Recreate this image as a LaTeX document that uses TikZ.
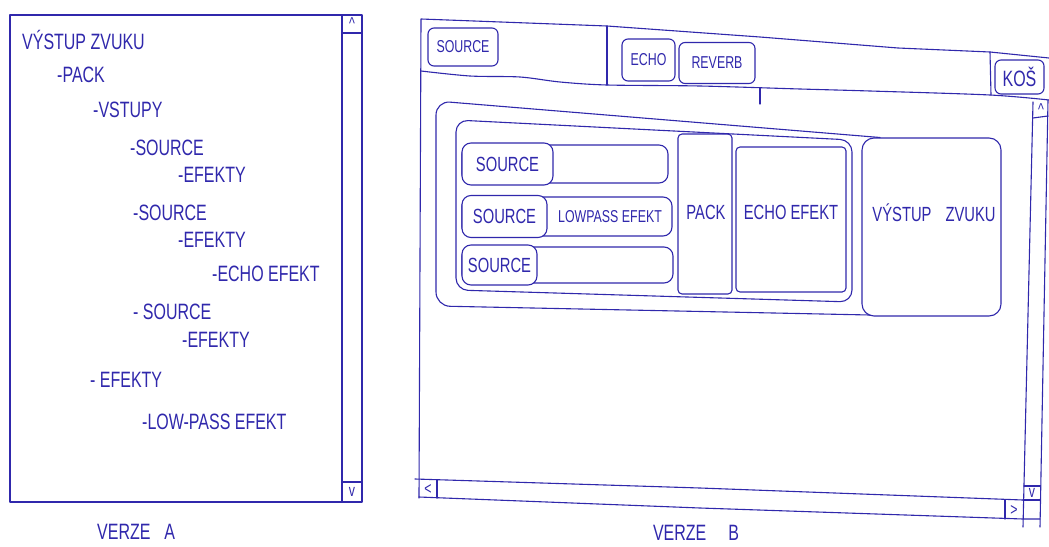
\documentclass[tikz,border=0pt]{standalone}
\usepackage{fontspec}
\setmainfont{Liberation Sans}
\newfontfamily\hand[FakeStretch=0.72]{Liberation Sans}
\definecolor{ink}{RGB}{48,40,172}
\tikzset{
  pen/.style={draw=ink, line width=1.1pt, line cap=round, line join=round},
  lbl/.style={text=ink, inner sep=0pt, font=\hand\fontsize{22.2}{22.2}\selectfont},
  lblm/.style={text=ink, inner sep=0pt, font=\hand\fontsize{20.5}{20.5}\selectfont},
  lbls/.style={text=ink, inner sep=0pt, font=\hand\fontsize{17.2}{17.2}\selectfont},
  rbox/.style={pen, rounded corners=#1, inner sep=0pt},
  rbox/.default=6pt,
  tree/.style={lbl, anchor=west},
}
\begin{document}
\begin{tikzpicture}[x=1pt,y=-1pt]
\useasboundingbox (0,0) rectangle (1049,546);
\fill[white] (0,0) rectangle (1049,546);

% ---------------- VERZE A ----------------
\node[pen, rectangle, minimum width=352pt, minimum height=487pt, inner sep=0pt] (winA) at (186,258.5) {};
\coordinate (sbAt) at (342,15);
\coordinate (sbAb) at (342,502);
\draw[pen] (sbAt) -- (sbAb);
\draw[pen] (342,33) -- (362,33);
\draw[pen] (342,482) -- (362,482);
\node[lbls] (upA) at (352,24) {\textasciicircum};
\node[lbls] (downA) at (352,492) {v};

\node[tree] (t1) at (22,40) {VÝSTUP ZVUKU};
\node[tree] (t2) at (57,75) {-PACK};
\node[tree] (t3) at (93,110) {-VSTUPY};
\node[tree] (t4) at (130,148) {-SOURCE};
\node[tree] (t5) at (178,175) {-EFEKTY};
\node[tree] (t6) at (133,213) {-SOURCE};
\node[tree] (t7) at (178,240) {-EFEKTY};
\node[tree] (t8) at (212,274) {-ECHO EFEKT};
\node[tree] (t9) at (133,312) {- SOURCE};
\node[tree] (t10) at (182,340) {-EFEKTY};
\node[tree] (t11) at (90,380) {- EFEKTY};
\node[tree] (t12) at (142,422) {-LOW-PASS EFEKT};
\node[tree] (verA) at (97,532) {VERZE\hspace{14pt}A};

% ---------------- VERZE B ----------------
% window frame and toolbar
\draw[pen] (419,498) -- (421,19) -- (607,26) -- (760,37) -- (898,48) -- (990,52) -- (1049,58);
\draw[pen] plot[smooth] coordinates {(421,71) (470,76) (520,77) (560,82) (607,85) (700,86) (800,89) (870,91) (990,95) (1049,100)};
\draw[pen] (607,26) -- (607,85);
\draw[pen] (990,52) -- (991,95);
\draw[pen] (760,88) -- (760,104);

% toolbar buttons
\node[rbox=6pt, lbls, minimum width=70pt, minimum height=38pt] (hsrc) at (463,47) {SOURCE};
\node[rbox=6pt, lbls, minimum width=53pt, minimum height=42pt] (hecho) at (648.5,60) {ECHO};
\node[rbox=6pt, lbls, minimum width=76pt, minimum height=41pt] (hrev) at (717,63) {REVERB};
\node[rbox=6pt, lbl, minimum width=49pt, minimum height=34pt] (kos) at (1019.5,77) {KOŠ};

% scrollbars
\draw[pen] (1033,102) -- (1023,527);
\draw[pen] (1048,100) -- (1040,527);
\draw[pen] (1033,118) -- (1048,116);
\node[lbls] (upB) at (1041,110) {\textasciicircum};
\draw[pen] (1024,486) -- (1040,486);
\draw[pen] (1023,500) -- (1040,500);
\node[lbls] (downB) at (1032,493) {v};
\draw[pen] (415,479) -- (700,488) -- (1023,500);
\draw[pen] (419,497) -- (700,508) -- (1023,519) -- (1040,519);
\draw[pen] (437,480) -- (437,498);
\node[lbls] (leftB) at (428,489) {<};
\draw[pen] (1005,500) -- (1005,519);
\node[lbls] (rightB) at (1014,510) {>};

% nested containers
\draw[pen, rounded corners=14pt] (880,137.5) -- (436,101) -- (436,306) -- (870,315);
\node[rbox=12pt, lblm, minimum width=139pt, minimum height=178pt] (out) at (931.5,227) {};
\node[lblm] (outL) at (934,213) {VÝSTUP\hspace{14pt}ZVUKU};
\draw[pen, rounded corners=12pt] (456,290) -- (456,120) -- (852,140) -- (852,302) -- cycle;

\node[rbox=4pt, minimum width=54pt, minimum height=160pt] (pack) at (705,214) {};
\node[lblm] (packL) at (706,212) {PACK};
\node[rbox=4pt, minimum width=110pt, minimum height=145pt] (echo) at (791,219.5) {};
\node[lblm] (echoL) at (791,212) {ECHO EFEKT};

% source rows
\node[rbox=9pt, minimum width=206pt, minimum height=38pt] (row1) at (565,164) {};
\node[rbox=9pt, lblm, minimum width=91pt, minimum height=42pt, fill=white] (src1) at (507.5,164) {SOURCE};
\node[rbox=9pt, minimum width=210pt, minimum height=39pt] (row2) at (567,216.5) {};
\node[rbox=9pt, lblm, minimum width=85pt, minimum height=42pt, fill=white] (src2) at (504.5,216.5) {SOURCE};
\node[lbls] (lp) at (610,217) {LOWPASS EFEKT};
\node[rbox=9pt, minimum width=211pt, minimum height=36pt] (row3) at (567.5,265) {};
\node[rbox=9pt, lblm, minimum width=75pt, minimum height=40pt, fill=white] (src3) at (499.5,265) {SOURCE};

\node[lbl] (verB) at (696,533) {VERZE\hspace{22pt}B};
\end{tikzpicture}
\end{document}
